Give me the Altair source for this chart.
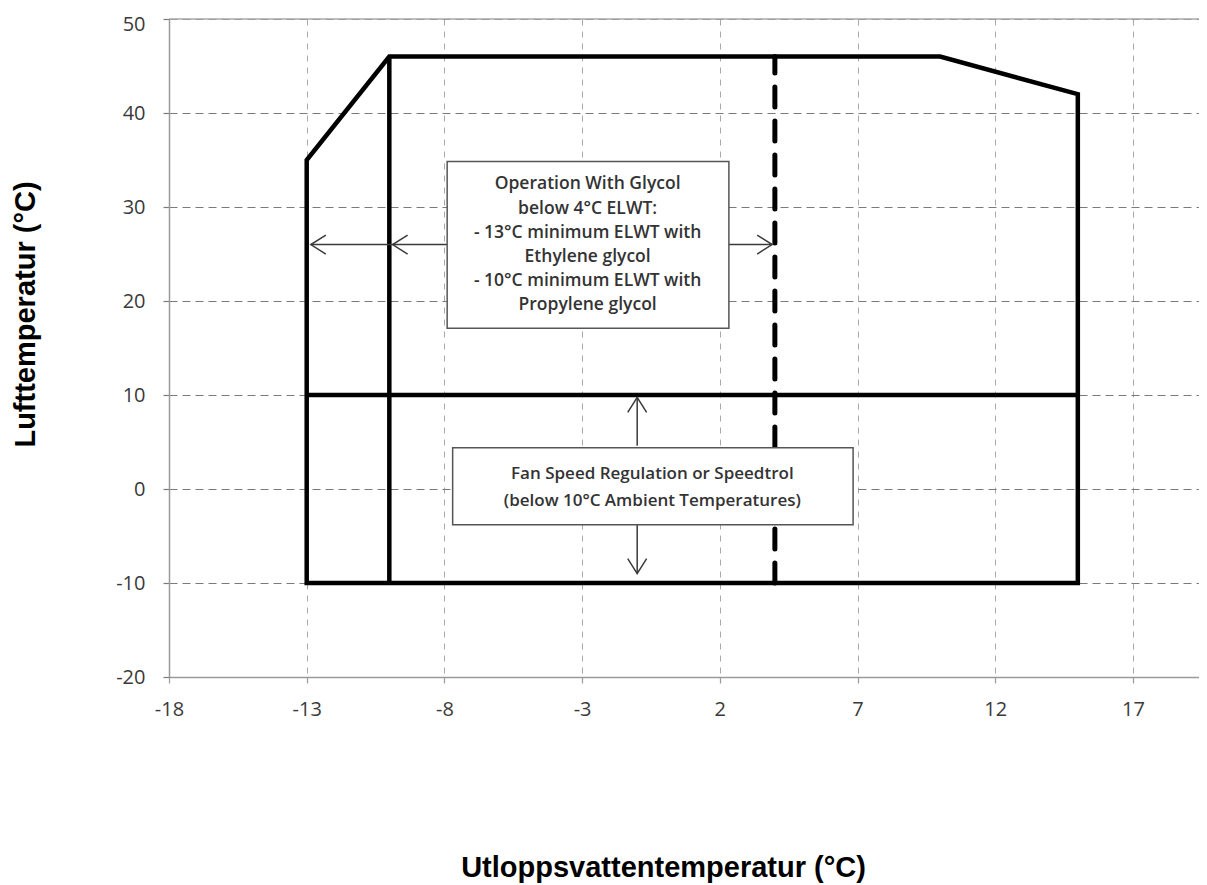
import altair as alt
import pandas as pd

# ---------------- data ----------------
x_ticks = [-18, -13, -8, -3, 2, 7, 12, 17]
y_ticks = [-20, -10, 0, 10, 20, 30, 40, 50]
x_domain = [-18, 19.4]
y_domain = [-20, 50]

# operating envelope outline
env_x = [-13, -13, -10, 10, 15, 15, -13]
env_y = [-10, 35, 46, 46, 42, -10, -10]
# inner dividing lines (vertical at -10, horizontal at 10)
div_x1 = [-10, -13]
div_x2 = [-10, 15]
div_y1 = [-10, 10]
div_y2 = [46, 10]
# glycol limit line (dashed) at 4 °C
gly_x = [4]
gly_y1 = [-10]
gly_y2 = [46]

top_border = [50]

# arrow shafts
arr_x1 = [-7.9, 2.33, -1.0, -1.0]
arr_x2 = [-12.85, 3.9, -1.0, -1.0]
arr_y1 = [26, 26, 4.6, -3.8]
arr_y2 = [26, 26, 9.75, -9.0]
# arrow heads
head_x = [-12.85, -9.88, 3.9, -1.0, -1.0]
head_y = [26, 26, 26, 9.75, -9.0]
head_angle = [180, 180, 0, 270, 90]

# annotation boxes
box_x1 = [-7.9, -7.7]
box_x2 = [2.33, 6.84]
box_y1 = [34.85, 4.4]
box_y2 = [17.1, -3.8]

# anchor of first text line in each box
note_x = [-2.8, -0.45]
note_y = [32.4, 1.55]
note_text = [
    "Operation With Glycol\nbelow 4°C ELWT:\n- 13°C minimum ELWT with\nEthylene glycol\n- 10°C minimum ELWT with\nPropylene glycol",
    "Fan Speed Regulation or Speedtrol\n(below 10°C Ambient Temperatures)",
]

# ---------------- frames ----------------
env_df = pd.DataFrame({"x": env_x, "y": env_y, "o": list(range(len(env_x)))})
div_df = pd.DataFrame({"x": div_x1, "x2": div_x2, "y": div_y1, "y2": div_y2})
gly_df = pd.DataFrame({"x": gly_x, "y": gly_y1, "y2": gly_y2})
top_df = pd.DataFrame({"y": top_border})
arr_df = pd.DataFrame({"x": arr_x1, "x2": arr_x2, "y": arr_y1, "y2": arr_y2})
head_df = pd.DataFrame({"x": head_x, "y": head_y, "a": head_angle})
box_df = pd.DataFrame({"x": box_x1, "x2": box_x2, "y": box_y1, "y2": box_y2})
note1_df = pd.DataFrame({"x": note_x[:1], "y": note_y[:1], "t": note_text[:1]})
note2_df = pd.DataFrame({"x": note_x[1:], "y": note_y[1:], "t": note_text[1:]})

W, H = 1030, 658
xs = alt.Scale(domain=x_domain, nice=False, zero=False)
ys = alt.Scale(domain=y_domain, nice=False, zero=False)

xaxis = alt.Axis(
    values=x_ticks, title="Utloppsvattentemperatur (°C)",
    grid=True, gridColor="#a8a8a8", gridDash=[6, 6], gridWidth=1,
    domainColor="#9a9a9a", domainWidth=1.5,
    tickColor="#9a9a9a", tickSize=6, tickWidth=1.2,
    labelFont="Open Sans", labelFontSize=20, labelColor="#3a3a3a",
    labelBaseline="middle", labelPadding=26, labelFlush=False,
    labelExpr="toString(datum.value)",
    titleFont="Liberation Sans", titleFontSize=29, titleFontWeight="bold",
    titleColor="#000000", titleX=494, titleY=199, titleBaseline="alphabetic",
    titleAlign="center", titleAngle=0,
)
yaxis = alt.Axis(
    values=y_ticks, title="Lufttemperatur (°C)",
    grid=True, gridColor="#7a7a7a", gridDash=[8, 5], gridWidth=1.2,
    domainColor="#9a9a9a", domainWidth=1.5,
    tickColor="#7a7a7a", tickSize=6, tickWidth=1.2,
    labelFont="Open Sans", labelFontSize=20, labelColor="#3a3a3a",
    labelPadding=18, labelFlush=False,
    labelOffset={"condition": {"test": "datum.value == 50", "value": 5}, "value": 0},
    labelExpr="toString(datum.value)",
    titleFont="Liberation Sans", titleFontSize=29, titleFontWeight="bold",
    titleColor="#000000", titleX=-135, titleY=295, titleBaseline="alphabetic",
    titleAlign="center", titleAngle=270,
)

X = lambda: alt.X("x:Q", scale=xs, axis=xaxis)
Y = lambda: alt.Y("y:Q", scale=ys, axis=yaxis)

top = alt.Chart(top_df).mark_rule(color="#a8a8a8", strokeWidth=1.5).encode(y=Y())

env = alt.Chart(env_df).mark_line(
    color="#000000", strokeWidth=4.5, strokeJoin="miter", strokeCap="square"
).encode(x=X(), y=Y(), order="o:Q")

div = alt.Chart(div_df).mark_rule(color="#000000", strokeWidth=4.5).encode(
    x=X(), x2="x2:Q", y=Y(), y2="y2:Q"
)

gly = alt.Chart(gly_df).mark_rule(
    color="#000000", strokeWidth=5, strokeDash=[20, 14], strokeCap="round"
).encode(x=X(), y=Y(), y2="y2:Q")

arr = alt.Chart(arr_df).mark_rule(color="#3a3a3a", strokeWidth=1.5).encode(
    x=X(), x2="x2:Q", y=Y(), y2="y2:Q"
)

heads = alt.Chart(head_df).mark_point(
    shape="M -1 -0.63 L 0 0 L -1 0.63", filled=False, size=900,
    stroke="#3a3a3a", strokeWidth=1.5, opacity=1,
).encode(x=X(), y=Y(), angle=alt.Angle("a:Q", scale=None))

boxes = alt.Chart(box_df).mark_rect(
    fill="#ffffff", stroke="#555555", strokeWidth=1.5
).encode(x=X(), x2="x2:Q", y=Y(), y2="y2:Q")

note1 = alt.Chart(note1_df).mark_text(
    font="Open Sans", fontSize=17.5, fontWeight=600, color="#333333",
    lineBreak="\n", lineHeight=24.2, align="center", baseline="middle",
).encode(x=X(), y=Y(), text="t:N")

note2 = alt.Chart(note2_df).mark_text(
    font="Open Sans", fontSize=17, fontWeight=600, color="#333333",
    lineBreak="\n", lineHeight=26.5, align="center", baseline="middle",
).encode(x=X(), y=Y(), text="t:N")

chart = alt.layer(top, env, div, gly, arr, heads, boxes, note1, note2).properties(
    width=W, height=H,
    autosize=alt.AutoSizeParams(type="none"),
    padding={"left": 161, "top": 11, "right": 0, "bottom": 207},
    background="#ffffff",
).configure_view(stroke=None)

chart.save("out.html", embed_options={"renderer": "svg", "actions": False})
